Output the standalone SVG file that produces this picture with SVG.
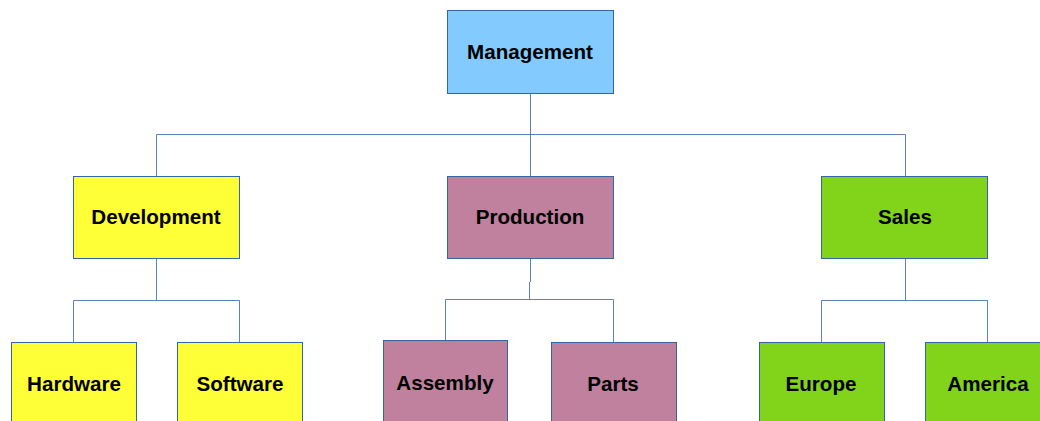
<svg xmlns="http://www.w3.org/2000/svg" width="1040" height="421" viewBox="0 0 1040 421">
<style>
.n{stroke:#3465a4;stroke-width:1}
.t{font-family:"Liberation Sans",Arial,sans-serif;font-weight:bold;font-size:20.6px;fill:#000;text-anchor:middle;dominant-baseline:central}
.c{fill:none;stroke:#3465a4;stroke-width:1;stroke-opacity:0.8}
.b{fill:#83caff}.y{fill:#ffff38}.p{fill:#bf819e}.g{fill:#81d41a}
</style>
<rect width="1040" height="421" fill="#fff"/>
<g id="connectors">
<path class="c" d="M530.5 93V134.5M156.5 176V134.5H905.5V176M530.5 134.5V176"/>
<path class="c" d="M156.5 258V300.5M73.5 342V300.5H239.5V342"/>
<path class="c" d="M530.5 258V282M529.5 282V299.5M445.5 340V299.5H613.5V342"/>
<path class="c" d="M905.5 258V300.5M821.5 342V300.5H987.5V342"/>
</g>
<g id="management"><rect class="n b" x="447.5" y="10.5" width="166" height="83"/><text class="t" x="530" y="51">Management</text></g>
<g id="development"><rect class="n y" x="73.5" y="176.5" width="166" height="82"/><text class="t" x="156" y="216">Development</text></g>
<g id="production"><rect class="n p" x="447.5" y="176.5" width="166" height="82"/><text class="t" x="530" y="216">Production</text></g>
<g id="sales"><rect class="n g" x="821.5" y="176.5" width="166" height="82"/><text class="t" x="905" y="216">Sales</text></g>
<g id="hardware"><rect class="n y" x="11.5" y="342.5" width="125" height="90"/><text class="t" x="74" y="383">Hardware</text></g>
<g id="software"><rect class="n y" x="177.5" y="342.5" width="125" height="90"/><text class="t" x="240" y="383">Software</text></g>
<g id="assembly"><rect class="n p" x="383.5" y="340.5" width="124" height="90"/><text class="t" x="445" y="382">Assembly</text></g>
<g id="parts"><rect class="n p" x="551.5" y="342.5" width="125" height="90"/><text class="t" x="613" y="383">Parts</text></g>
<g id="europe"><rect class="n g" x="759.5" y="342.5" width="125" height="90"/><text class="t" x="821" y="383">Europe</text></g>
<g id="america"><rect class="n g" x="925.5" y="342.5" width="125" height="90"/><text class="t" x="988" y="383">America</text></g>
</svg>
